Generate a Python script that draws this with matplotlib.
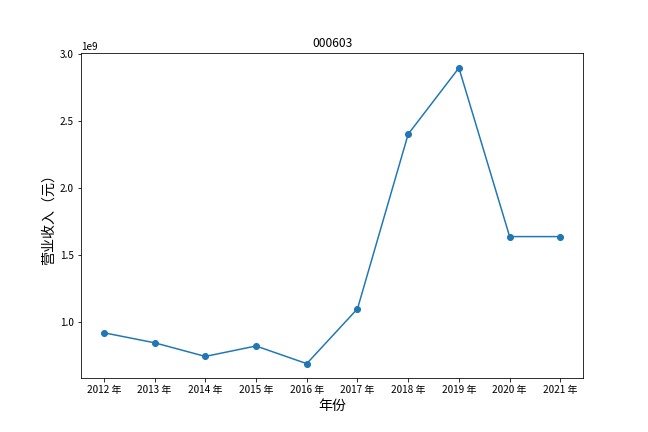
import matplotlib
matplotlib.use("Agg")
import matplotlib.pyplot as plt

plt.rcParams["font.family"] = ["Noto Sans CJK SC", "DejaVu Sans"]
plt.rcParams["axes.unicode_minus"] = False

# Data
years = ["2012 年", "2013 年", "2014 年", "2015 年", "2016 年",
         "2017 年", "2018 年", "2019 年", "2020 年", "2021 年"]
revenue = [0.918e9, 0.843e9, 0.741e9, 0.819e9, 0.687e9,
           1.097e9, 2.403e9, 2.898e9, 1.637e9, 1.637e9]

fig, ax = plt.subplots(figsize=(9, 6), dpi=72)
fig.subplots_adjust(left=0.125, right=0.9, top=0.877, bottom=0.124)

ax.plot(years, revenue, marker="o", color="#1f77b4")

ax.set_title("000603", fontsize=12)
ax.set_xlabel("年份", fontsize=14)
ax.set_ylabel("营业收入（元）", fontsize=14)
ax.tick_params(labelsize=10)

fig.savefig("out.png", dpi=72)
